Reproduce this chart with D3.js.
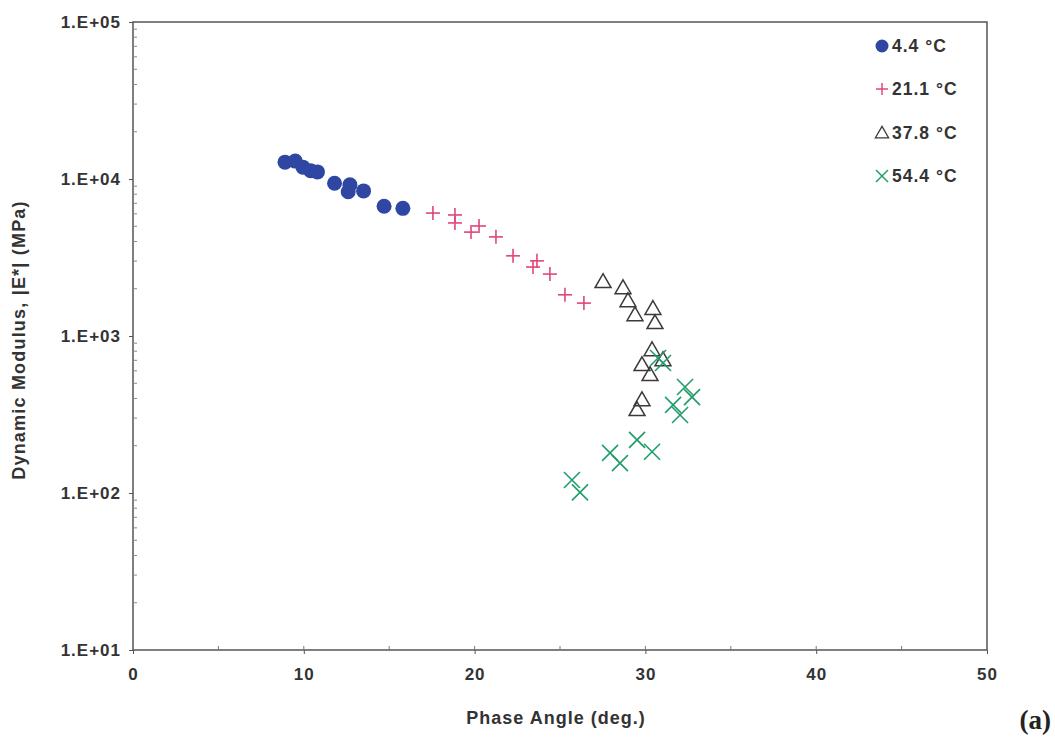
<!DOCTYPE html>
<html><head><meta charset="utf-8">
<script src="https://cdn.jsdelivr.net/npm/d3@7"></script>
<style>
body{margin:0;background:#fff;}
text{font-family:"Liberation Sans",Arial,sans-serif;font-weight:bold;fill:#333;}
</style></head><body>
<svg id="c" width="1055" height="742"></svg>
<script>
// Data (phase angle in degrees, |E*| in MPa)
const seriesNames = ["4.4 °C", "21.1 °C", "37.8 °C", "54.4 °C"];
const phase44 = [8.9, 9.5, 9.95, 10.4, 10.8, 11.8, 12.7, 12.6, 13.5, 14.7, 15.8];
const mod44   = [12800, 13000, 11900, 11300, 11100, 9400, 9200, 8300, 8400, 6700, 6500];
const phase211 = [17.56, 18.85, 18.85, 19.79, 20.26, 21.25, 22.25, 23.65, 23.42, 24.41, 25.29, 26.4];
const mod211   = [6070, 5900, 5250, 4590, 5020, 4280, 3240, 3010, 2750, 2480, 1830, 1620];
const phase378 = [27.52, 28.69, 28.98, 29.39, 30.44, 30.56, 30.39, 29.8, 31.03, 30.27, 29.8, 29.51];
const mod378   = [2210, 2020, 1670, 1360, 1490, 1210, 814, 654, 703, 565, 391, 338];
const phase544 = [30.74, 31.03, 32.32, 32.73, 31.62, 32.03, 29.51, 30.39, 27.93, 28.51, 25.7, 26.17];
const mod544   = [724, 673, 473, 408, 364, 314, 218, 183, 180, 155, 121, 101];
const xTicks = [0, 10, 20, 30, 40, 50];
const yTicks = [10, 100, 1000, 10000, 100000];
const yTickLabels = ["1.E+01", "1.E+02", "1.E+03", "1.E+04", "1.E+05"];
const xTitle = "Phase Angle (deg.)";
const yTitle = "Dynamic Modulus, |E*| (MPa)";
const panelLabel = "(a)";

const colors = ["#2f47a3", "#e0457a", "#3a3a3a", "#1f9e6a"];
const svg = d3.select("#c");
const L = 133, R = 987, T = 22, B = 650;
const x = d3.scaleLinear().domain([0, 50]).range([L, R]);
const y = d3.scaleLog().domain([10, 100000]).range([B, T]);

// frame
svg.append("rect").attr("x", L).attr("y", T).attr("width", R - L).attr("height", B - T)
  .attr("fill", "none").attr("stroke", "#555").attr("stroke-width", 1.5);

// x axis: major ticks outward, minor inward
const gx = svg.append("g").attr("transform", `translate(0,${B})`)
  .call(d3.axisBottom(x).tickValues(xTicks).tickSize(4).tickPadding(14).tickFormat(d3.format("d")));
gx.attr("font-family", null).attr("font-size", null);
gx.select(".domain").remove();
gx.selectAll("line").attr("stroke", "#555");
gx.selectAll("text").attr("font-size", 17).attr("letter-spacing", 1).attr("fill", "#333");
svg.append("g").selectAll("line").data(d3.range(5, 50, 5)).join("line")
  .attr("x1", d => x(d)).attr("x2", d => x(d)).attr("y1", B).attr("y2", B - 4)
  .attr("stroke", "#777");

// y axis
const gy = svg.append("g").attr("transform", `translate(${L},0)`)
  .call(d3.axisLeft(y).tickValues(yTicks).tickSize(4).tickPadding(8)
    .tickFormat((d, i) => yTickLabels[i]));
gy.attr("font-family", null).attr("font-size", null);
gy.select(".domain").remove();
gy.selectAll("line").attr("stroke", "#555");
gy.selectAll("text").attr("font-size", 17).attr("letter-spacing", 1).attr("fill", "#333");
const minorY = [];
[10, 100, 1000, 10000].forEach(dec => { for (let k = 2; k <= 9; k++) minorY.push(dec * k); });
svg.append("g").selectAll("line").data(minorY).join("line")
  .attr("x1", L).attr("x2", L + 4).attr("y1", d => y(d)).attr("y2", d => y(d))
  .attr("stroke", "#888");

// titles
svg.append("text").attr("x", (L + R) / 2 - 4).attr("y", 724).attr("text-anchor", "middle")
  .attr("font-size", 18).attr("letter-spacing", 1).text(xTitle);
svg.append("text").attr("transform", `translate(25,${(T + B) / 2 + 4}) rotate(-90)`)
  .attr("text-anchor", "middle").attr("font-size", 18).attr("letter-spacing", 1.2).text(yTitle);
svg.append("text").attr("x", 1051).attr("y", 729).attr("text-anchor", "end")
  .attr("font-size", 27).style("font-family", "'Liberation Serif','Times New Roman',serif")
  .style("fill", "#222").text(panelLabel);

// markers
const plot = svg.append("g");
const pts = (xs, ys) => xs.map((v, i) => ({ p: v, m: ys[i] }));
plot.selectAll(".s0").data(pts(phase44, mod44)).join("circle")
  .attr("cx", d => x(d.p)).attr("cy", d => y(d.m)).attr("r", 7.5).attr("fill", colors[0]);
const drawPlus = (g, cx, cy, s, col, w) => {
  g.append("line").attr("x1", cx - s).attr("x2", cx + s).attr("y1", cy).attr("y2", cy).attr("stroke", col).attr("stroke-width", w);
  g.append("line").attr("x1", cx).attr("x2", cx).attr("y1", cy - s).attr("y2", cy + s).attr("stroke", col).attr("stroke-width", w);
};
const drawX = (g, cx, cy, s, col, w) => {
  g.append("line").attr("x1", cx - s).attr("x2", cx + s).attr("y1", cy - s).attr("y2", cy + s).attr("stroke", col).attr("stroke-width", w);
  g.append("line").attr("x1", cx - s).attr("x2", cx + s).attr("y1", cy + s).attr("y2", cy - s).attr("stroke", col).attr("stroke-width", w);
};
const tri = d3.symbol().type(d3.symbolTriangle).size(110);
pts(phase211, mod211).forEach(d => drawPlus(plot, x(d.p), y(d.m), 7, colors[1], 1.6));
plot.selectAll(".s2").data(pts(phase378, mod378)).join("path")
  .attr("d", tri).attr("transform", d => `translate(${x(d.p)},${y(d.m) + 1})`)
  .attr("fill", "none").attr("stroke", colors[2]).attr("stroke-width", 1.5);
pts(phase544, mod544).forEach(d => drawX(plot, x(d.p), y(d.m), 8, colors[3], 1.6));

// legend
const lg = svg.append("g");
const ly = [46, 89, 133, 176];
lg.append("circle").attr("cx", 882).attr("cy", ly[0]).attr("r", 6.5).attr("fill", colors[0]);
drawPlus(lg, 882, ly[1], 6, colors[1], 1.5);
lg.append("path").attr("d", d3.symbol().type(d3.symbolTriangle).size(75)).attr("transform", `translate(882,${ly[2] + 1})`)
  .attr("fill", "none").attr("stroke", colors[2]).attr("stroke-width", 1.3);
drawX(lg, 882, ly[3], 6, colors[3], 1.5);
lg.selectAll("text").data(seriesNames).join("text")
  .attr("x", 892).attr("y", (d, i) => ly[i] + 6).attr("font-size", 17.5).attr("letter-spacing", 1).text(d => d);
</script></body></html>
